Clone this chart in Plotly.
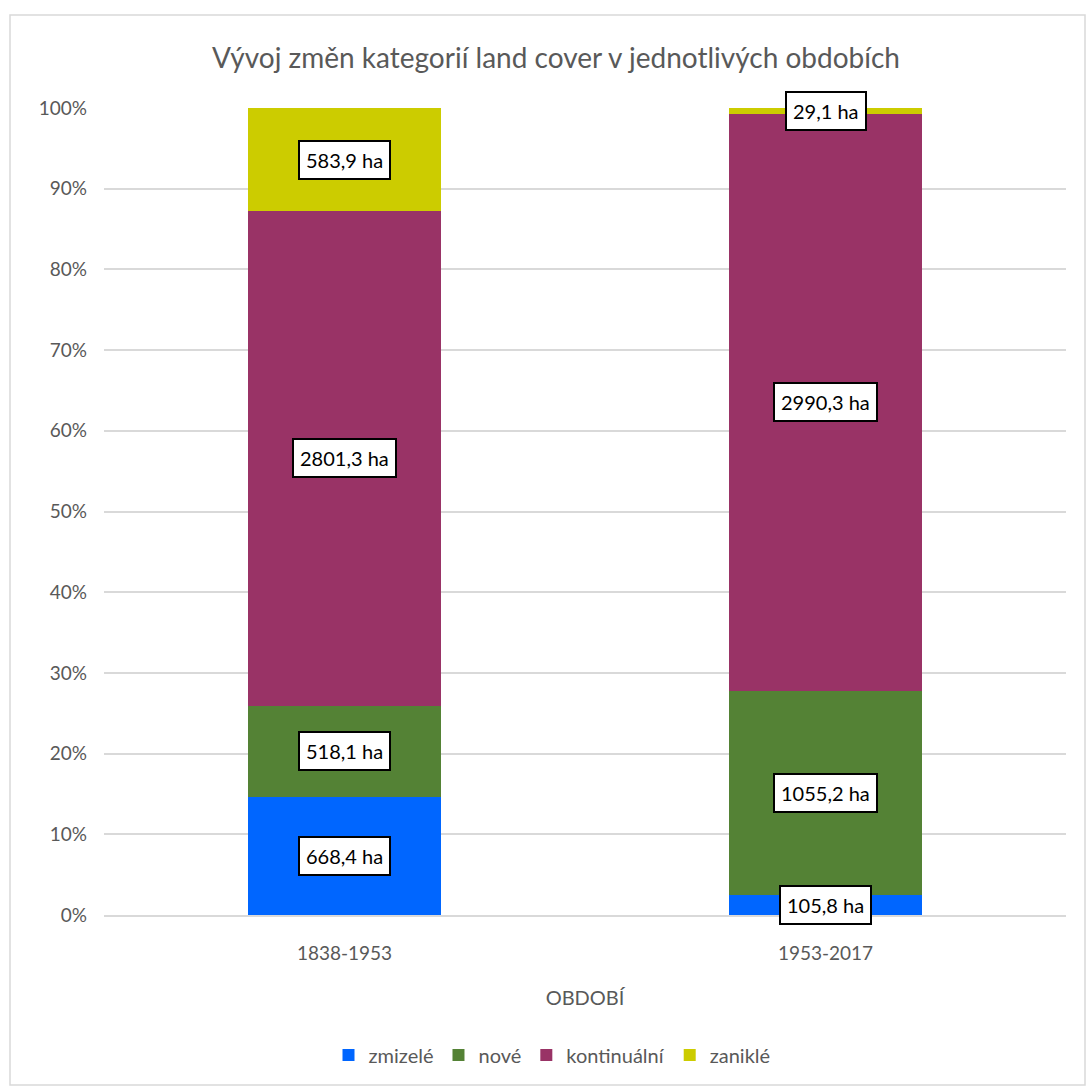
import plotly.graph_objects as go

categories = ["1838-1953", "1953-2017"]
series_names = ["zmizelé", "nové", "kontinuální", "zaniklé"]
zmizele = [668.4, 105.8]
nove = [518.1, 1055.2]
kontinualni = [2801.3, 2990.3]
zanikle = [583.9, 29.1]
colors = ["#0066FF", "#548235", "#993366", "#CCCC00"]
y_ticks = list(range(0, 101, 10))
y_tick_labels = [f"{v}%" for v in y_ticks]

series_values = [zmizele, nove, kontinualni, zanikle]
FONT = "Lato, 'Open Sans', sans-serif"

fig = go.Figure()
for name, vals, col in zip(series_names, series_values, colors):
    fig.add_trace(go.Bar(x=categories, y=vals, name=name, marker=dict(color=col, line=dict(width=0)),
                         hoverinfo="skip"))

def fmt(v):
    return f"{v:.1f}".replace(".", ",") + " ha"

totals = [sum(s[i] for s in series_values) for i in range(len(categories))]
for i, cat in enumerate(categories):
    cum = 0.0
    for vals in series_values:
        pct = vals[i] / totals[i] * 100
        mid = cum + pct / 2
        cum += pct
        fig.add_annotation(x=cat, y=mid, text=fmt(vals[i]), showarrow=False,
                           font=dict(family=FONT, size=20, color="black"),
                           bgcolor="white", bordercolor="black", borderwidth=2, borderpad=6)

W, H = 1086, 1086
ml, mr, mt, mb = 104, 20, 108, 171
pw, ph = W - ml - mr, H - mt - mb

def px_x(px):
    return (px - ml) / pw

def px_y(py):
    return (H - mb - py) / ph

fig.add_shape(type="rect", xref="paper", yref="paper", x0=px_x(10), x1=px_x(1085), y0=px_y(1085), y1=px_y(15),
              line=dict(color="#D9D9D9", width=1.5), layer="below")

fig.update_layout(
    width=W, height=H,
    barmode="stack", barnorm="percent", bargap=0.6,
    margin=dict(l=ml, r=mr, t=mt, b=mb, autoexpand=False),
    paper_bgcolor="white", plot_bgcolor="white",
    title=dict(text="Vývoj změn kategorií land cover v jednotlivých obdobích", x=px_x(556), xanchor="center",
               y=1 - 58 / H, yanchor="middle", xref="paper",
               font=dict(family=FONT, size=28, color="#595959")),
    font=dict(family=FONT, size=19, color="#595959"),
    legend=dict(orientation="h", x=px_x(552), xanchor="center", y=px_y(1055), yanchor="middle",
                font=dict(family=FONT, size=20, color="#595959"), traceorder="normal",
                itemwidth=30, itemsizing="constant"),
    showlegend=True,
    xaxis=dict(title=dict(text="OBDOBÍ", font=dict(family=FONT, size=20, color="#595959"), standoff=28),
               showline=True, linecolor="#D9D9D9", linewidth=1.5, ticks="", showgrid=False,
               ticklabelstandoff=20,
               tickfont=dict(family=FONT, size=19, color="#595959")),
    yaxis=dict(range=[0, 100], tickmode="array", tickvals=y_ticks, ticktext=y_tick_labels,
               showgrid=True, gridcolor="#D9D9D9", gridwidth=1.5, zeroline=False, showline=False,
               ticklabelstandoff=16,
               tickfont=dict(family=FONT, size=19, color="#595959")),
)

fig.write_html("out.html")
